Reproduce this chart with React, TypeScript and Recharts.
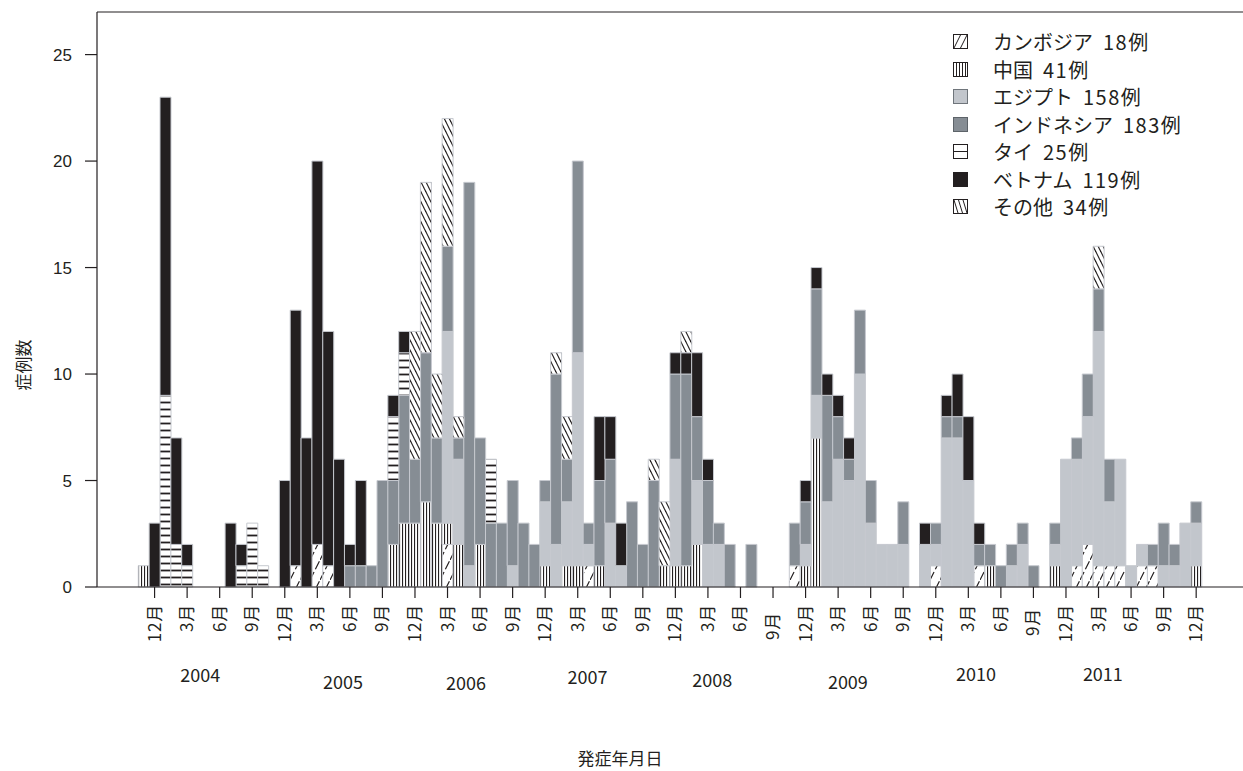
import React from 'react';
import { BarChart, Bar, XAxis, YAxis, ReferenceLine } from 'recharts';

const FONT_JP = '"Noto Sans CJK JP", "Noto Sans", sans-serif';
const FONT_NUM = '"Liberation Sans", Arial, sans-serif';
const INK = '#231f20';

// ---- categories: monthly bins, Nov 2003 .. Dec 2011 ----
const monthKeys: string[] = [];
const monthNums: number[] = [];
for (let k = 0; k < 98; k++) {
  const t = 2003 * 12 + 10 + k;
  monthKeys.push(`${Math.floor(t / 12)}-${(t % 12) + 1}`);
  monthNums.push((t % 12) + 1);
}

// ---- series values (2003: Nov, Dec; then Jan..Dec per year) ----
const cambodia = [
  0, 0,
  0, 0, 0, 0, 0, 0, 0, 0, 0, 0, 0, 0,
  1, 0, 2, 1, 0, 0, 0, 0, 0, 0, 0, 0,
  0, 0, 2, 0, 0, 0, 0, 0, 0, 0, 0, 0,
  0, 0, 0, 1, 0, 0, 0, 0, 0, 0, 0, 0,
  0, 0, 0, 0, 0, 0, 0, 0, 0, 0, 1, 0,
  0, 0, 0, 0, 0, 0, 0, 0, 0, 0, 0, 1,
  0, 0, 0, 1, 0, 0, 0, 0, 0, 0, 0, 0,
  1, 2, 1, 1, 1, 0, 1, 1, 0, 0, 0, 0,
];
const china = [
  1, 0,
  0, 0, 0, 0, 0, 0, 0, 0, 0, 0, 0, 0,
  0, 0, 0, 0, 0, 0, 0, 0, 0, 2, 3, 3,
  4, 3, 1, 2, 0, 2, 0, 0, 0, 0, 0, 1,
  0, 1, 1, 0, 1, 0, 0, 0, 0, 0, 1, 1,
  1, 2, 0, 0, 0, 0, 0, 0, 0, 0, 0, 1,
  7, 0, 0, 0, 0, 0, 0, 0, 0, 0, 0, 0,
  0, 0, 0, 0, 1, 0, 0, 0, 0, 0, 1, 0,
  0, 0, 0, 0, 0, 0, 0, 0, 0, 0, 0, 1,
];
const egypt = [
  0, 0,
  0, 0, 0, 0, 0, 0, 0, 0, 0, 0, 0, 0,
  0, 0, 0, 0, 0, 0, 0, 0, 0, 0, 0, 0,
  0, 0, 9, 4, 1, 0, 0, 0, 1, 0, 0, 3,
  2, 3, 10, 1, 0, 3, 1, 0, 0, 0, 0, 5,
  0, 3, 2, 2, 0, 0, 0, 0, 0, 0, 0, 1,
  2, 4, 6, 5, 10, 3, 2, 2, 2, 0, 2, 1,
  7, 7, 5, 0, 0, 0, 1, 2, 0, 0, 1, 6,
  5, 6, 11, 3, 5, 1, 1, 0, 1, 1, 3, 2,
];
const indonesia = [
  0, 0,
  0, 0, 0, 0, 0, 0, 0, 0, 0, 0, 0, 0,
  0, 0, 0, 0, 0, 1, 1, 1, 5, 3, 6, 3,
  7, 4, 4, 1, 18, 5, 3, 3, 4, 3, 2, 1,
  8, 2, 9, 1, 4, 3, 0, 4, 2, 5, 0, 4,
  9, 3, 3, 1, 2, 0, 2, 0, 0, 0, 2, 2,
  5, 5, 2, 1, 3, 2, 0, 0, 2, 0, 0, 1,
  1, 1, 0, 1, 1, 1, 1, 1, 1, 0, 1, 0,
  1, 2, 2, 2, 0, 0, 0, 1, 2, 1, 0, 1,
];
const thai = [
  0, 0,
  9, 2, 1, 0, 0, 0, 0, 1, 3, 1, 0, 0,
  0, 0, 0, 0, 0, 0, 0, 0, 0, 3, 2, 0,
  0, 0, 0, 0, 0, 0, 3, 0, 0, 0, 0, 0,
  0, 0, 0, 0, 0, 0, 0, 0, 0, 0, 0, 0,
  0, 0, 0, 0, 0, 0, 0, 0, 0, 0, 0, 0,
  0, 0, 0, 0, 0, 0, 0, 0, 0, 0, 0, 0,
  0, 0, 0, 0, 0, 0, 0, 0, 0, 0, 0, 0,
  0, 0, 0, 0, 0, 0, 0, 0, 0, 0, 0, 0,
];
const vietnam = [
  0, 3,
  14, 5, 1, 0, 0, 0, 3, 1, 0, 0, 0, 5,
  12, 7, 18, 11, 6, 1, 4, 0, 0, 1, 1, 0,
  0, 0, 0, 0, 0, 0, 0, 0, 0, 0, 0, 0,
  0, 0, 0, 0, 3, 2, 2, 0, 0, 0, 0, 1,
  1, 3, 1, 0, 0, 0, 0, 0, 0, 0, 0, 1,
  1, 1, 1, 1, 0, 0, 0, 0, 0, 0, 1, 0,
  1, 2, 3, 1, 0, 0, 0, 0, 0, 0, 0, 0,
  0, 0, 0, 0, 0, 0, 0, 0, 0, 0, 0, 0,
];
const other = [
  0, 0,
  0, 0, 0, 0, 0, 0, 0, 0, 0, 0, 0, 0,
  0, 0, 0, 0, 0, 0, 0, 0, 0, 0, 0, 6,
  8, 3, 6, 1, 0, 0, 0, 0, 0, 0, 0, 0,
  1, 2, 0, 0, 0, 0, 0, 0, 0, 1, 3, 0,
  1, 0, 0, 0, 0, 0, 0, 0, 0, 0, 0, 0,
  0, 0, 0, 0, 0, 0, 0, 0, 0, 0, 0, 0,
  0, 0, 0, 0, 0, 0, 0, 0, 0, 0, 0, 0,
  0, 0, 2, 0, 0, 0, 0, 0, 0, 0, 0, 0,
];

const yTicks = [0, 5, 10, 15, 20, 25];
const legendNames = ['カンボジア', '中国', 'エジプト', 'インドネシア', 'タイ', 'ベトナム', 'その他'];
const legendCounts = ['18例', '41例', '158例', '183例', '25例', '119例', '34例'];
// year captions placed under the month ticks (position in month-index units)
const yearLabels = [
  { year: '2004', at: 5.2, dy: 95 },
  { year: '2005', at: 18.36, dy: 102 },
  { year: '2006', at: 29.7, dy: 103 },
  { year: '2007', at: 40.9, dy: 97 },
  { year: '2008', at: 52.4, dy: 100 },
  { year: '2009', at: 64.9, dy: 102 },
  { year: '2010', at: 76.7, dy: 94 },
  { year: '2011', at: 88.4, dy: 94 },
];
// a few month captions sit slightly lower in the original
const monthLabelShift: Record<string, number> = { '2008-9': 8, '2010-9': 4 };

const seriesKeys = ['cambodia', 'china', 'egypt', 'indonesia', 'thai', 'vietnam', 'other'];
const seriesValues = [cambodia, china, egypt, indonesia, thai, vietnam, other];
const seriesFills = [
  'url(#pCambodia)', 'url(#pChina)', '#c2c6cc', '#868d94', 'url(#pThai)', INK, 'url(#pOther)',
];

const data = monthKeys.map((m, i) => {
  const row: any = { month: m };
  seriesKeys.forEach((k, s) => { row[k] = seriesValues[s][i]; });
  return row;
});

const XTick = (props: any) => {
  const { x, y, payload } = props;
  const i = monthKeys.indexOf(payload.value);
  const band = payload && payload.offset ? payload.offset * 2 : 10.85;
  const m = monthNums[i];
  const out: any[] = [];
  if (m % 3 === 0) {
    const shift = monthLabelShift[monthKeys[i]] || 0;
    out.push(<line key="t" x1={x} x2={x} y1={y} y2={y + 11} stroke={INK} strokeWidth={1.2} />);
    out.push(
      <text key="m" transform={`translate(${x + 6}, ${y + 17 + shift}) rotate(-90)`} textAnchor="end"
        fontSize={17} letterSpacing={0.8} fontFamily={FONT_JP} fill={INK}>{`${m}月`}</text>
    );
  }
  const yl = yearLabels.find((l) => Math.floor(l.at) === i);
  if (yl) {
    out.push(
      <text key="y" x={x + (yl.at - i) * band} y={y + yl.dy} textAnchor="middle"
        fontSize={18} fontFamily={FONT_JP} fill={INK}>{yl.year}</text>
    );
  }
  return <g>{out}</g>;
};

const LegendIcon = ({ idx }: { idx: number }) => {
  const s = 15;
  const common = { stroke: INK, strokeWidth: 1 };
  let inner: any = null;
  if (idx === 0) inner = (<g>
    <rect x={0.5} y={0.5} width={s - 1} height={s - 1} fill="#fff" {...common} />
    <line x1={1} y1={14} x2={7.5} y2={1} {...common} />
    <line x1={7.5} y1={14} x2={14} y2={1} {...common} />
  </g>);
  if (idx === 1) inner = (<g>
    <rect x={0.5} y={0.5} width={s - 1} height={s - 1} fill="#fff" {...common} />
    {[3.5, 6.5, 9.5, 12.5].map((xx) => <line key={xx} x1={xx} y1={1} x2={xx} y2={14} {...common} />)}
  </g>);
  if (idx === 2) inner = <rect x={0.5} y={0.5} width={s - 1} height={s - 1} fill="#c2c6cc" stroke="#6f757b" />;
  if (idx === 3) inner = <rect x={0.5} y={0.5} width={s - 1} height={s - 1} fill="#868d94" stroke="#5d6369" />;
  if (idx === 4) inner = (<g>
    <rect x={0.5} y={0.5} width={s - 1} height={s - 1} fill="#fff" {...common} />
    <line x1={1} y1={7.5} x2={14} y2={7.5} {...common} />
  </g>);
  if (idx === 5) inner = <rect x={0} y={0} width={s} height={s} fill={INK} />;
  if (idx === 6) inner = (<g>
    <rect x={0.5} y={0.5} width={s - 1} height={s - 1} fill="#fff" {...common} />
    <line x1={1} y1={1} x2={5} y2={14} {...common} />
    <line x1={5.5} y1={1} x2={9.5} y2={14} {...common} />
    <line x1={10} y1={1} x2={14} y2={14} {...common} />
  </g>);
  return <svg width={s} height={s} style={{ display: 'block' }}>{inner}</svg>;
};

export default function App() {
  return (
    <div style={{ position: 'absolute', left: 0, top: 0, width: 1243, height: 771, overflow: 'hidden', background: '#fff' }}>
      <svg width={0} height={0} style={{ position: 'absolute' }}>
        <defs>
          <pattern id="pCambodia" patternUnits="userSpaceOnUse" width={10} height={20}>
            <rect width={10} height={20} fill="#fff" />
            <line x1={0} y1={20} x2={10} y2={0} stroke={INK} strokeWidth={1.2} strokeDasharray="9 3" />
          </pattern>
          <pattern id="pChina" patternUnits="userSpaceOnUse" width={3} height={10}>
            <rect width={3} height={10} fill="#fff" />
            <rect x={0} y={0} width={1.1} height={10} fill={INK} />
          </pattern>
          <pattern id="pThai" patternUnits="userSpaceOnUse" width={10} height={7}>
            <rect width={10} height={7} fill="#fff" />
            <rect x={0} y={2.6} width={10} height={1.8} fill={INK} />
          </pattern>
          <pattern id="pOther" patternUnits="userSpaceOnUse" width={5} height={10}>
            <rect width={5} height={10} fill="#fff" />
            <line x1={-1} y1={-2} x2={6} y2={12} stroke={INK} strokeWidth={1.2} />
            <line x1={-6} y1={-2} x2={1} y2={12} stroke={INK} strokeWidth={1.2} />
            <line x1={4} y1={-2} x2={11} y2={12} stroke={INK} strokeWidth={1.2} />
          </pattern>
        </defs>
      </svg>

      <BarChart width={1250} height={771} data={data} margin={{ top: 12, right: 0, left: 0, bottom: 0 }}
        barCategoryGap={0} barGap={0}>
        <XAxis dataKey="month" height={184} padding={{ left: 41.3, right: 48.4 }} interval={0}
          tickLine={false} tickSize={0} tickMargin={0} axisLine={{ stroke: INK, strokeWidth: 1.2 }}
          tick={<XTick />} />
        <YAxis type="number" width={97} domain={[0, 27]} ticks={yTicks} tickSize={12} tickMargin={13}
          axisLine={{ stroke: INK, strokeWidth: 1.2 }} tickLine={{ stroke: INK, strokeWidth: 1.2 }}
          tick={{ fontSize: 17, fontFamily: FONT_NUM, fill: INK }} />
        <ReferenceLine y={27} stroke={INK} strokeWidth={1.2} />
        {seriesKeys.map((k, s) => (
          <Bar key={k} dataKey={k} stackId="a" fill={seriesFills[s]} stroke="#c6c9cf" strokeWidth={1}
            isAnimationActive={false} />
        ))}
      </BarChart>

      <svg width={1243} height={771} style={{ position: 'absolute', left: 0, top: 0, pointerEvents: 'none' }}>
        <text transform="translate(30, 365) rotate(-90)" textAnchor="middle" fontSize={17}
          fontFamily={FONT_JP} fill={INK}>症例数</text>
        <text x={620} y={765} textAnchor="middle" fontSize={17} fontFamily={FONT_JP} fill={INK}>発症年月日</text>
      </svg>

      <div style={{ position: 'absolute', left: 953, top: 28, fontFamily: FONT_JP, color: INK }}>
        {legendNames.map((nm, i) => (
          <div key={nm} style={{ display: 'flex', alignItems: 'center', height: 27.5 }}>
            <LegendIcon idx={i} />
            <span style={{ marginLeft: 25, fontSize: 20, lineHeight: '27.5px', whiteSpace: 'nowrap' }}>{nm}</span>
            <span style={{ marginLeft: 10, fontSize: 20, letterSpacing: 1.5, lineHeight: '27.5px', whiteSpace: 'nowrap' }}>{legendCounts[i]}</span>
          </div>
        ))}
      </div>
    </div>
  );
}
